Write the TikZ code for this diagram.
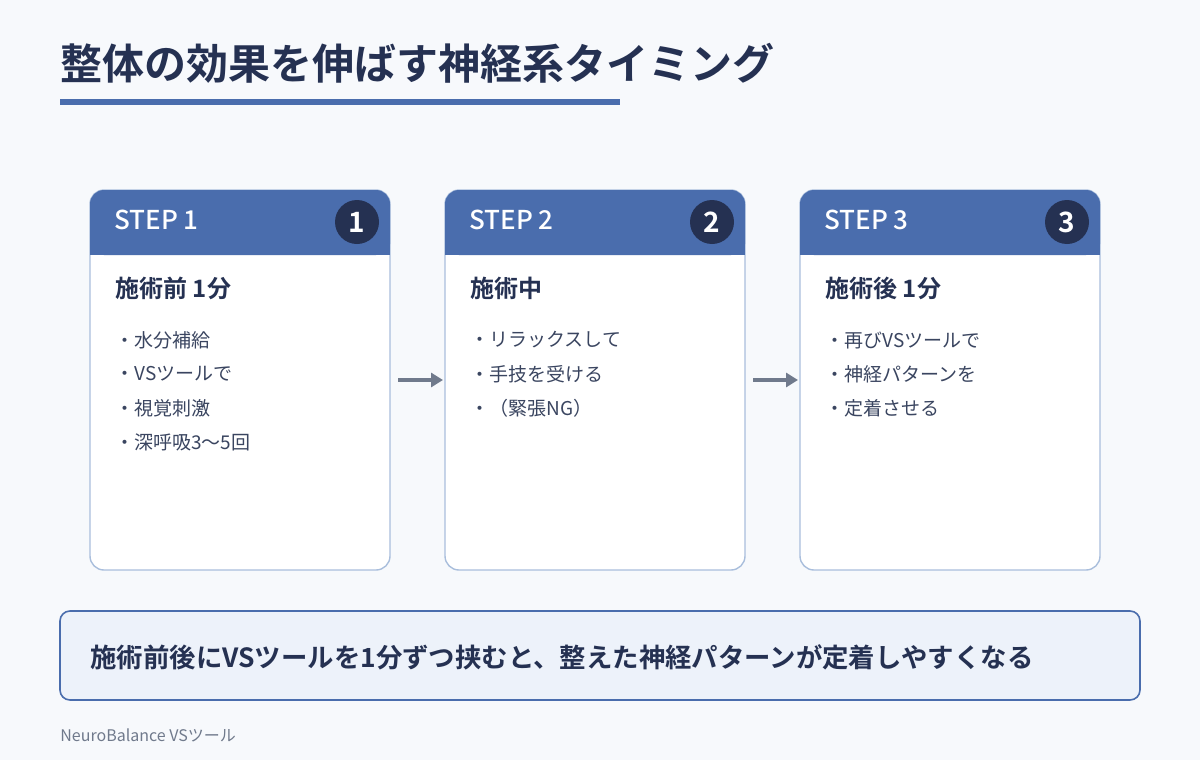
\documentclass[tikz,border=0pt]{standalone}
\usepackage{fontspec}
\usetikzlibrary{arrows.meta}
\setmainfont{Noto Sans CJK JP}[BoldFont={Noto Sans CJK JP Bold}]
\newfontfamily\med{Noto Sans CJK JP Medium}
\definecolor{bg}{HTML}{F7F9FC}
\definecolor{navy}{HTML}{253152}
\definecolor{blu}{HTML}{4A6DAD}
\definecolor{bord}{HTML}{A9BEDC}
\definecolor{txt}{HTML}{3A4560}
\definecolor{arr}{HTML}{707A8C}
\definecolor{lbg}{HTML}{EDF2FA}
\begin{document}
\begin{tikzpicture}[x=0.5pt,y=-0.5pt,
 card/.style={draw=bord,line width=0.7pt,fill=white,rounded corners=7pt},
 stp/.style={anchor=west,inner xsep=0pt,text=white,font=\med\fontsize{13}{15}\selectfont},
 num/.style={circle,fill=navy,text=white,minimum size=22pt,inner sep=0pt,font=\bfseries\fontsize{14}{16}\selectfont},
 sub/.style={anchor=west,inner xsep=0pt,text=navy,font=\bfseries\fontsize{12}{14}\selectfont},
 item/.style={anchor=west,inner xsep=0pt,text=txt,font=\fontsize{9.5}{11}\selectfont},
 conn/.style={draw=arr,line width=2pt,-{Triangle[length=6pt,width=7pt]}}]
\fill[bg] (0,0) rectangle (1200,760);
\node[anchor=west,inner xsep=0pt,text=navy,font=\bfseries\fontsize{21}{24}\selectfont] (title) at (60,63) {整体の効果を伸ばす神経系タイミング};
\fill[blu] (60,99) rectangle (620,105);
\foreach \i/\x/\s/\a/\b/\c/\d in {1/90/施術前\ 1分/・水分補給/・VSツールで/・視覚刺激/・深呼吸3〜5回,
 2/445/施術中/・リラックスして/・手技を受ける/・（緊張NG）/,
 3/800/施術後\ 1分/・再びVSツールで/・神経パターンを/・定着させる/}{
 \path[card] (\x,190) rectangle (\x+300,570);
 \fill[blu,rounded corners=7pt] (\x,255) -- (\x,190) -- (\x+300,190) -- (\x+300,230) -- (\x+300,255) -- cycle;
 \fill[blu] (\x,230) rectangle (\x+300,255);
 \node[coordinate] (c\i) at (\x,380) {};
 \node[coordinate] (e\i) at (\x+300,380) {};
 \node[stp] (s\i) at (\x+24,220) {STEP \i};
 \node[num] (n\i) at (\x+267,222) {\i};
 \node[sub] (t\i) at (\x+25,288) {\s};
 \node[item] (a\i) at (\x+25,340) {\a};
 \node[item] (b\i) at (\x+25,374) {\b};
 \node[item] (cc\i) at (\x+25,408) {\c};
 \node[item] (d\i) at (\x+25,442) {\d};
}
\draw[conn] ([xshift=4pt]e1) -- ([xshift=-1pt]c2);
\draw[conn] ([xshift=4pt]e2) -- ([xshift=-1pt]c3);
\draw[draw=blu,fill=lbg,line width=0.8pt,rounded corners=5pt] (60,611) rectangle (1140,700);
\node[anchor=west,inner xsep=0pt,text=navy,font=\bfseries\fontsize{13.2}{15}\selectfont] (msg) at (90,657) {施術前後にVSツールを1分ずつ挟むと、整えた神経パターンが定着しやすくなる};
\node[anchor=west,inner xsep=0pt,text=arr,font=\fontsize{8}{10}\selectfont] (foot) at (60,735) {NeuroBalance VSツール};
\end{tikzpicture}
\end{document}
